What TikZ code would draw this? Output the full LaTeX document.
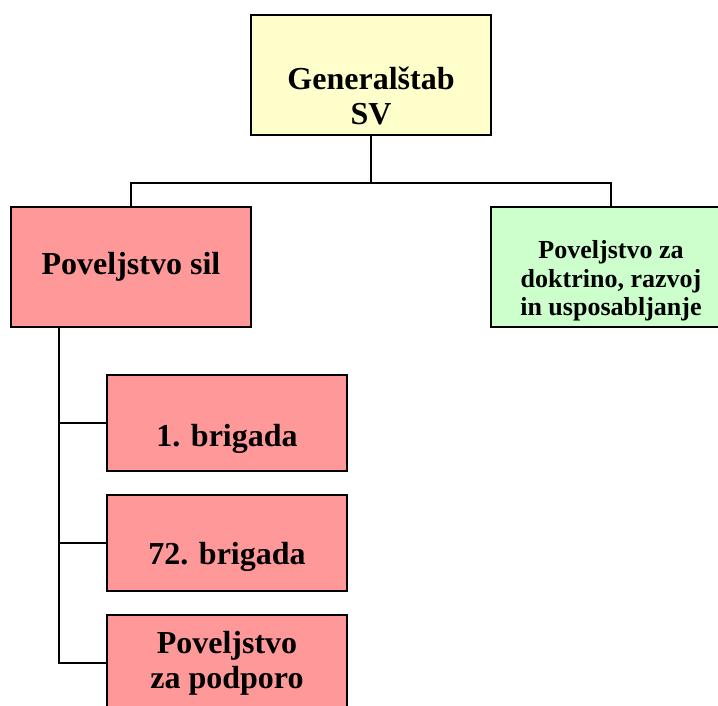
\documentclass[tikz,border=0pt]{standalone}
\usepackage{fontspec}
\setmainfont{Liberation Serif}
\usepackage{tikz}
\usetikzlibrary{positioning}
\definecolor{staffyellow}{RGB}{255,255,204}
\definecolor{forcered}{RGB}{255,153,153}
\definecolor{trainggreen}{RGB}{204,255,204}

\begin{document}
\begin{tikzpicture}[x=1pt, y=-1pt,
    unit/.style={draw, line width=1.6pt, minimum width=240pt, minimum height=120pt, inner sep=0pt},
    subunit/.style={unit, minimum height=96pt, fill=forcered},
    lbl/.style={align=center, inner sep=0pt, font=\bfseries\fontsize{32}{35}\selectfont},
    small lbl/.style={lbl, font=\bfseries\fontsize{26}{28.5}\selectfont},
    link/.style={line width=1.6pt}]
            \path[use as bounding box, clip] (0,0) rectangle (718,705);

            % General staff
            \node[unit, fill=staffyellow] (gs) at (371,75) {};
            \node[lbl] (gslbl) at (371,96) {Generalštab\\SV};

            % Commands
            \node[unit, fill=forcered] (sil) at (131,267) {};
            \node[lbl] (sillbl) at (131,267) {Poveljstvo sil};
            \node[unit, fill=trainggreen] (tradoc) at (611,267) {};
            \node[small lbl] (tradoclbl) at (611,281) {Poveljstvo za\\doktrino, razvoj\\in usposabljanje};

            % Brigades
            \node[subunit] (b1) at (227,423) {};
            \node[lbl] (b1lbl) at (227,439) {1. brigada};
            \node[subunit] (b72) at (227,543) {};
            \node[lbl] (b72lbl) at (227,557) {72. brigada};
            \node[subunit] (podp) at (227,663) {};
            \node[lbl] (podplbl) at (227,663) {Poveljstvo\\za podporo};

            % Lines
            \coordinate (bus) at (371,183);
            \coordinate (spine) at (59,327);
            \draw[link] (gs.south) -- (bus) -| (sil.north);
            \draw[link] (bus) -| (tradoc.north);
            \draw[link] (spine) |- (b1.west);
            \draw[link] (spine) |- (b72.west);
            \draw[link] (spine) |- (podp.west);
        \end{tikzpicture}
\end{document}
